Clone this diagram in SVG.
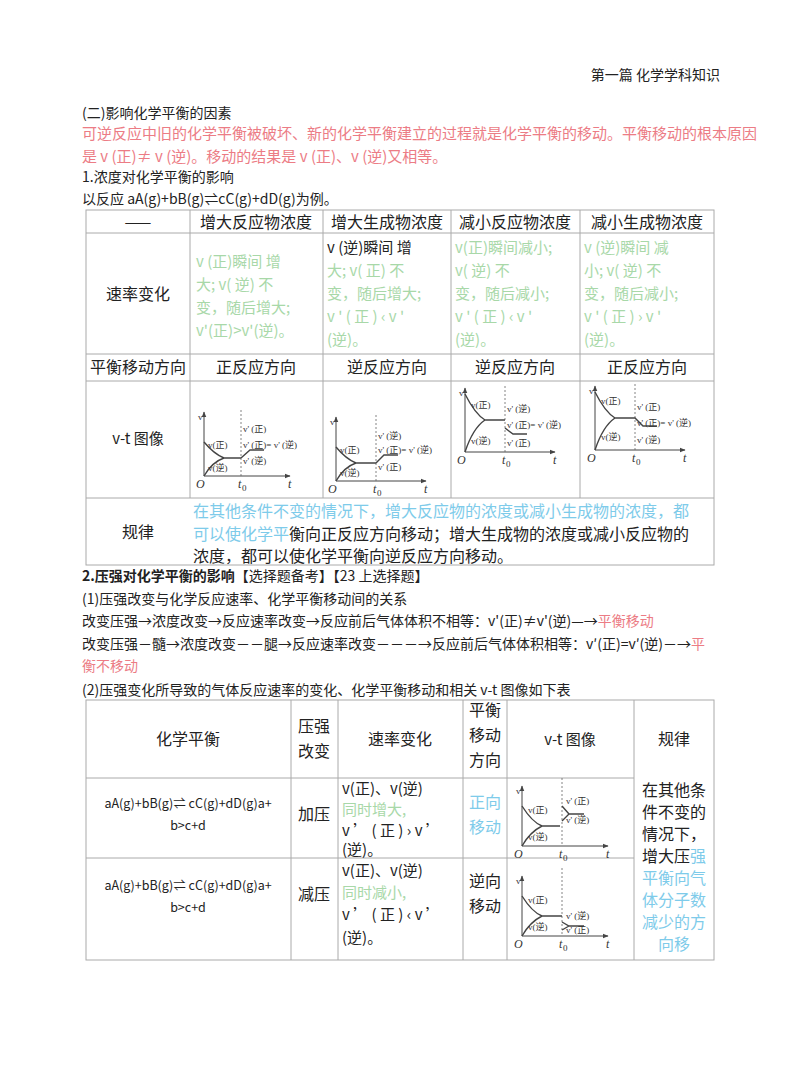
<svg xmlns="http://www.w3.org/2000/svg" width="800" height="1078" viewBox="0 0 800 1078">
<style>
text{font-family:"Noto Sans CJK SC","Liberation Serif",serif;fill:#222}
.s{font-size:14px}.m{font-size:15px}.b{font-size:16px}
text.r,.r text,tspan.r{fill:#ec7c85}text.g,.g text{fill:#a8d8a8}text.bl,.bl text,tspan.bl{fill:#7ecbea}
.c{text-anchor:middle}
.t line,.t rect{stroke:#aaa;stroke-width:1;fill:none}
.ax{stroke:#444;stroke-width:1;fill:none}
.cv{stroke:#444;stroke-width:1.4;fill:none}
.ds{stroke:#666;stroke-width:0.8;stroke-dasharray:2,2}
text.gl{font-size:9px;font-family:"Liberation Serif","Noto Sans CJK SC",serif;fill:#333}
text.gi{font-size:12px;font-style:italic;font-family:"Liberation Serif",serif;fill:#333}
</style>
<defs><marker id="ar" viewBox="0 0 10 10" refX="9" refY="5" markerWidth="6" markerHeight="6" orient="auto"><path d="M0,1 L10,5 L0,9z" fill="#444"/></marker></defs>
<rect width="800" height="1078" fill="#fff"/>
<text x="720" y="80" class="s" text-anchor="end">第一篇  化学学科知识</text>
<text x="82" y="118" class="s">(二)影响化学平衡的因素</text>
<text x="82" y="139" class="m r">可逆反应中旧的化学平衡被破坏、新的化学平衡建立的过程就是化学平衡的移动。平衡移动的根本原因</text>
<text x="82" y="162" class="m r">是 v (正)≠ v (逆)。移动的结果是 v (正)、v (逆)又相等。</text>
<text x="82" y="182" class="s">1.浓度对化学平衡的影响</text>
<text x="82" y="204" class="s">以反应 aA(g)+bB(g)⇌cC(g)+dD(g)为例。</text>
<g id="table1" class="t">
<rect x="86" y="210" width="628" height="355"/>
<line x1="86" y1="233" x2="714" y2="233"/><line x1="86" y1="354" x2="714" y2="354"/><line x1="86" y1="381" x2="714" y2="381"/><line x1="86" y1="498" x2="714" y2="498"/>
<line x1="190" y1="210" x2="190" y2="498"/><line x1="323" y1="210" x2="323" y2="498"/><line x1="451" y1="210" x2="451" y2="498"/><line x1="580" y1="210" x2="580" y2="498"/>
</g>
<g id="t1text">
<text x="138" y="228" class="b c">——</text>
<text x="256" y="228" class="b c">增大反应物浓度</text><text x="387" y="228" class="b c">增大生成物浓度</text><text x="515" y="228" class="b c">减小反应物浓度</text><text x="647" y="228" class="b c">减小生成物浓度</text>
<text x="138" y="300" class="b c">速率变化</text>
<g class="m g"><text x="196" y="267"> v (正)瞬间  增</text><text x="196" y="290">大; v( 逆) 不</text><text x="196" y="313">变，随后增大;</text><text x="196" y="336">v'(正)&gt;v'(逆)。</text></g>
<text x="327" y="253" class="m">v (逆)瞬间  增</text>
<g class="m g"><text x="327" y="276">大; v( 正) 不</text><text x="327" y="299">变，随后增大;</text><text x="327" y="322">v ' ( 正 ) ‹ v '</text><text x="327" y="345">(逆)。</text></g>
<g class="m g"><text x="455" y="253">v(正)瞬间减小;</text><text x="455" y="276"> v( 逆) 不</text><text x="455" y="299">变，随后减小;</text><text x="455" y="322">v ' ( 正 ) ‹ v '</text><text x="455" y="345">(逆)。</text></g>
<g class="m g"><text x="584" y="253">v (逆)瞬间  减</text><text x="584" y="276">小; v( 逆) 不</text><text x="584" y="299">变，随后减小;</text><text x="584" y="322">v ' ( 正 ) › v '</text><text x="584" y="345">(逆)。</text></g>
<text x="138" y="373" class="b c">平衡移动方向</text>
<text x="256" y="373" class="b c">正反应方向</text><text x="387" y="373" class="b c">逆反应方向</text><text x="515" y="373" class="b c">逆反应方向</text><text x="647" y="373" class="b c">正反应方向</text>
<text x="138" y="444" class="m c" style="font-family:'Noto Sans CJK SC',sans-serif">v-t 图像</text>
<text x="138" y="538" class="b c">规律</text>
<text x="193" y="517" class="b bl">在其他条件不变的情况下，增大反应物的浓度或减小生成物的浓度，都</text>
<text x="193" y="540" class="b"><tspan class="bl">可以使化学平</tspan>衡向正反应方向移动；增大生成物的浓度或减小反应物的</text>
<text x="193" y="562" class="b">浓度，都可以使化学平衡向逆反应方向移动。</text>
</g>
<g id="graph1" transform="translate(204,476)">
<line class="ax" x1="0" y1="0" x2="0" y2="-64" marker-end="url(#ar)"/><line class="ax" x1="0" y1="0" x2="86" y2="0" marker-end="url(#ar)"/>
<line class="ds" x1="37" y1="-66" x2="37" y2="0"/>
<path class="cv" d="M0,-34 Q10,-22 20,-18 H37 M0,0 Q8,-14 20,-18 M37,-18 L46,-26 H60"/>
<text class="gl" x="4" y="-28">v(正)</text><text class="gl" x="4" y="-5">v(逆)</text>
<text class="gl" x="39" y="-44">v' (正)</text><text class="gl" x="39" y="-28">v' (正)= v' (逆)</text><text class="gl" x="39" y="-12">v' (逆)</text>
<text class="gi" x="-8" y="12">O</text><text class="gi" x="34" y="12">t</text><text class="gl" x="38" y="15">0</text><text class="gi" x="84" y="12">t</text><text class="gl" x="-6" y="-56">v</text>
</g>
<g id="graph2" transform="translate(336,481)">
<line class="ax" x1="0" y1="0" x2="0" y2="-64" marker-end="url(#ar)"/><line class="ax" x1="0" y1="0" x2="90" y2="0" marker-end="url(#ar)"/>
<line class="ds" x1="40" y1="-66" x2="40" y2="0"/>
<path class="cv" d="M0,-34 Q10,-22 20,-18 H40 M0,0 Q8,-14 20,-18 M40,-18 L48,-26 H62"/>
<text class="gl" x="4" y="-28">v(正)</text><text class="gl" x="4" y="-5">v(逆)</text>
<text class="gl" x="42" y="-42">v' (逆)</text><text class="gl" x="42" y="-28">v' (正)= v' (逆)</text><text class="gl" x="42" y="-11">v' (正)</text>
<text class="gi" x="-8" y="12">O</text><text class="gi" x="37" y="12">t</text><text class="gl" x="41" y="15">0</text><text class="gi" x="88" y="12">t</text><text class="gl" x="-6" y="-56">v</text>
</g>
<g id="graph3" transform="translate(465,452)">
<line class="ax" x1="0" y1="0" x2="0" y2="-64" marker-end="url(#ar)"/><line class="ax" x1="0" y1="0" x2="90" y2="0" marker-end="url(#ar)"/>
<line class="ds" x1="40" y1="-66" x2="40" y2="0"/>
<path class="cv" d="M0,-58 Q10,-38 20,-32 H40 M40,-24 L48,-18 H62 M0,0 Q8,-24 20,-32"/>
<text class="gl" x="6" y="-44">v(正)</text><text class="gl" x="6" y="-8">v(逆)</text>
<text class="gl" x="42" y="-40">v' (逆)</text><text class="gl" x="42" y="-24">v' (正)= v' (逆)</text><text class="gl" x="42" y="-6">v' (正)</text>
<text class="gi" x="-8" y="12">O</text><text class="gi" x="37" y="12">t</text><text class="gl" x="41" y="15">0</text><text class="gi" x="88" y="12">t</text><text class="gl" x="-6" y="-56">v</text>
</g>
<g id="graph4" transform="translate(595,450)">
<line class="ax" x1="0" y1="0" x2="0" y2="-64" marker-end="url(#ar)"/><line class="ax" x1="0" y1="0" x2="90" y2="0" marker-end="url(#ar)"/>
<line class="ds" x1="40" y1="-66" x2="40" y2="0"/>
<path class="cv" d="M0,-58 Q10,-38 20,-32 H40 L48,-24 H62 M0,0 Q8,-24 20,-32"/>
<text class="gl" x="6" y="-46">v(正)</text><text class="gl" x="6" y="-10">v(逆)</text>
<text class="gl" x="42" y="-40">v' (正)</text><text class="gl" x="42" y="-24">v' (正)= v' (逆)</text><text class="gl" x="42" y="-7">v' (逆)</text>
<text class="gi" x="-8" y="12">O</text><text class="gi" x="37" y="12">t</text><text class="gl" x="41" y="15">0</text><text class="gi" x="88" y="12">t</text><text class="gl" x="-6" y="-56">v</text>
</g>
<text x="82" y="581" class="s"><tspan font-weight="bold">2.压强对化学平衡的影响</tspan>【选择题备考】【23 上选择题】</text>
<text x="82" y="604" class="s">(1)压强改变与化学反应速率、化学平衡移动间的关系</text>
<text x="82" y="626" class="s">改变压强→浓度改变→反应速率改变→反应前后气体体积不相等：v'(正)≠v'(逆)—→<tspan class="r">平衡移动</tspan></text>
<text x="82" y="649" class="s">改变压强－髓→浓度改变－－腿→反应速率改变－－－→反应前后气体体积相等：v′(正)=v′(逆)－→<tspan class="r">平</tspan></text>
<text x="82" y="671" class="s r">衡不移动</text>
<text x="82" y="695" class="s">(2)压强变化所导致的气体反应速率的变化、化学平衡移动和相关 v-t 图像如下表</text>
<g id="table2" class="t">
<rect x="86" y="700" width="628" height="260"/>
<line x1="86" y1="778" x2="634" y2="778"/><line x1="86" y1="858" x2="634" y2="858"/>
<line x1="291" y1="700" x2="291" y2="960"/><line x1="338" y1="700" x2="338" y2="960"/><line x1="463" y1="700" x2="463" y2="960"/><line x1="507" y1="700" x2="507" y2="960"/><line x1="634" y1="700" x2="634" y2="960"/>
</g>
<g id="t2text">
<text x="188" y="745" class="b c">化学平衡</text>
<text x="314" y="732" class="b c">压强</text><text x="314" y="757" class="b c">改变</text>
<text x="400" y="745" class="b c">速率变化</text>
<text x="485" y="716" class="b c">平衡</text><text x="485" y="741" class="b c">移动</text><text x="485" y="766" class="b c">方向</text>
<text x="570" y="745" class="m c" style="font-family:'Noto Sans CJK SC',sans-serif">v-t 图像</text>
<text x="674" y="745" class="b c">规律</text>
<text x="188" y="808" class="c" font-size="12.5">aA(g)+bB(g)⇌ cC(g)+dD(g)a+</text><text x="188" y="830" class="c" font-size="12.5">b&gt;c+d</text>
<text x="314" y="820" class="b c">加压</text>
<text x="342" y="794" class="m">v(正)、v(逆)</text><text x="342" y="815" class="m g">同时增大,</text><text x="342" y="836" class="m">v ’   ( 正 ) › v ’</text><text x="342" y="855" class="m">(逆)。</text>
<text x="485" y="808" class="b c bl">正向</text><text x="485" y="833" class="b c bl">移动</text>
<text x="188" y="890" class="c" font-size="12.5">aA(g)+bB(g)⇌ cC(g)+dD(g)a+</text><text x="188" y="912" class="c" font-size="12.5">b&gt;c+d</text>
<text x="314" y="900" class="b c">减压</text>
<text x="342" y="876" class="m">v(正)、v(逆)</text><text x="342" y="898" class="m g">同时减小,</text><text x="342" y="920" class="m">v ’ ( 正 ) ‹ v ’</text><text x="342" y="943" class="m">(逆)。</text>
<text x="485" y="887" class="b c">逆向</text><text x="485" y="912" class="b c">移动</text>
<text x="674" y="796" class="b c">在其他条</text><text x="674" y="818" class="b c">件不变的</text><text x="674" y="840" class="b c">情况下，</text><text x="674" y="862" class="b c">增大压<tspan class="bl">强</tspan></text>
<text x="674" y="884" class="b c bl">平衡向气</text><text x="674" y="906" class="b c bl">体分子数</text><text x="674" y="928" class="b c bl">减少的方</text><text x="674" y="950" class="b c bl">向移</text>
</g>
<g id="graph5" transform="translate(522,846)">
<line class="ax" x1="0" y1="0" x2="0" y2="-60" marker-end="url(#ar)"/><line class="ax" x1="0" y1="0" x2="86" y2="0" marker-end="url(#ar)"/>
<line class="ds" x1="40" y1="-68" x2="40" y2="0"/>
<path class="cv" d="M0,-40 Q10,-24 20,-20 H38 M0,0 Q8,-14 20,-20 M40,-40 L47,-32 H62 M40,-25 L47,-32"/>
<text class="gl" x="6" y="-33">v(正)</text><text class="gl" x="6" y="-6">v(逆)</text>
<text class="gl" x="44" y="-42">v' (正)</text><text class="gl" x="44" y="-23">v' (逆)</text>
<text class="gi" x="-8" y="12">O</text><text class="gi" x="37" y="12">t</text><text class="gl" x="41" y="15">0</text><text class="gi" x="84" y="12">t</text><text class="gl" x="-6" y="-52">v</text>
</g>
<g id="graph6" transform="translate(522,936)">
<line class="ax" x1="0" y1="0" x2="0" y2="-60" marker-end="url(#ar)"/><line class="ax" x1="0" y1="0" x2="86" y2="0" marker-end="url(#ar)"/>
<line class="ds" x1="40" y1="-68" x2="40" y2="0"/>
<path class="cv" d="M0,-40 Q10,-24 20,-20 H40 M0,0 Q8,-14 20,-20 M40,-14 L47,-10 H62 M40,-6 L47,-10"/>
<text class="gl" x="6" y="-33">v(正)</text><text class="gl" x="6" y="-6">v(逆)</text>
<text class="gl" x="44" y="-17">v' (逆)</text><text class="gl" x="44" y="-3">v' (正)</text>
<text class="gi" x="-8" y="12">O</text><text class="gi" x="37" y="12">t</text><text class="gl" x="41" y="15">0</text><text class="gi" x="84" y="12">t</text><text class="gl" x="-6" y="-52">v</text>
</g>
</svg>
